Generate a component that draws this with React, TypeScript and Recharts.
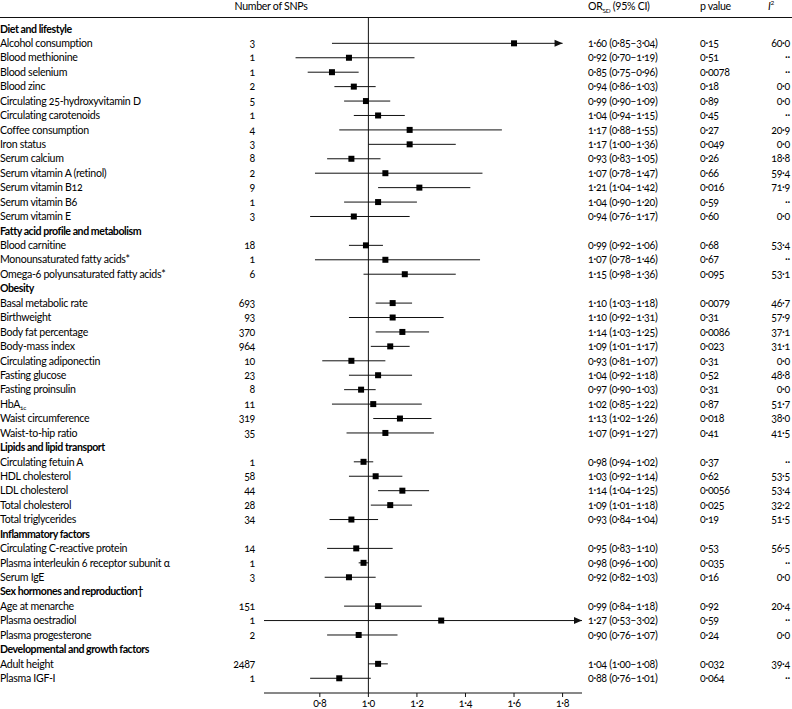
import React from "react";
import {
  ComposedChart,
  Scatter,
  XAxis,
  YAxis,
  ReferenceLine,
} from "recharts";

const FONT = "Lato, 'Open Sans', sans-serif";
const FONT_SIZE = 10.6;
const TRACK = -0.3;

const groupTitles = [
  "Diet and lifestyle",
  "Fatty acid profile and metabolism",
  "Obesity",
  "Lipids and lipid transport",
  "Inflammatory factors",
  "Sex hormones and reproduction†",
  "Developmental and growth factors",
];
const groupSizes = [13, 3, 10, 5, 3, 3, 2];

const exposures = [
  "Alcohol consumption",
  "Blood methionine",
  "Blood selenium",
  "Blood zinc",
  "Circulating 25-hydroxyvitamin D",
  "Circulating carotenoids",
  "Coffee consumption",
  "Iron status",
  "Serum calcium",
  "Serum vitamin A (retinol)",
  "Serum vitamin B12",
  "Serum vitamin B6",
  "Serum vitamin E",
  "Blood carnitine",
  "Monounsaturated fatty acids*",
  "Omega-6 polyunsaturated fatty acids*",
  "Basal metabolic rate",
  "Birthweight",
  "Body fat percentage",
  "Body-mass index",
  "Circulating adiponectin",
  "Fasting glucose",
  "Fasting proinsulin",
  "HbA1c",
  "Waist circumference",
  "Waist-to-hip ratio",
  "Circulating fetuin A",
  "HDL cholesterol",
  "LDL cholesterol",
  "Total cholesterol",
  "Total triglycerides",
  "Circulating C-reactive protein",
  "Plasma interleukin 6 receptor subunit α",
  "Serum IgE",
  "Age at menarche",
  "Plasma oestradiol",
  "Plasma progesterone",
  "Adult height",
  "Plasma IGF-I",
];

const snpCounts = [
  3, 1, 1, 2, 5, 1, 4, 3, 8, 2, 9, 1, 3, 18, 1, 6, 693, 93, 370, 964, 10, 23,
  8, 11, 319, 35, 1, 58, 44, 28, 34, 14, 1, 3, 151, 1, 2, 2487, 1,
];

// printed column
const orText = [
  "1.60 (0.85–3.04)", "0.92 (0.70–1.19)", "0.85 (0.75–0.96)", "0.94 (0.86–1.03)",
  "0.99 (0.90–1.09)", "1.04 (0.94–1.15)", "1.17 (0.88–1.55)", "1.17 (1.00–1.36)",
  "0.93 (0.83–1.05)", "1.07 (0.78–1.47)", "1.21 (1.04–1.42)", "1.04 (0.90–1.20)",
  "0.94 (0.76–1.17)", "0.99 (0.92–1.06)", "1.07 (0.78–1.46)", "1.15 (0.98–1.36)",
  "1.10 (1.03–1.18)", "1.10 (0.92–1.31)", "1.14 (1.03–1.25)", "1.09 (1.01–1.17)",
  "0.93 (0.81–1.07)", "1.04 (0.92–1.18)", "0.97 (0.90–1.03)", "1.02 (0.85–1.22)",
  "1.13 (1.02–1.26)", "1.07 (0.91–1.27)", "0.98 (0.94–1.02)", "1.03 (0.92–1.14)",
  "1.14 (1.04–1.25)", "1.09 (1.01–1.18)", "0.93 (0.84–1.04)", "0.95 (0.83–1.10)",
  "0.98 (0.96–1.00)", "0.92 (0.82–1.03)", "0.99 (0.84–1.18)", "1.27 (0.53–3.02)",
  "0.90 (0.76–1.07)", "1.04 (1.00–1.08)", "0.88 (0.76–1.01)",
];

const pValues = [
  "0.15", "0.51", "0.0078", "0.18", "0.89", "0.45", "0.27", "0.049", "0.26",
  "0.66", "0.016", "0.59", "0.60", "0.68", "0.67", "0.095", "0.0079", "0.31",
  "0.0086", "0.023", "0.31", "0.52", "0.31", "0.87", "0.018", "0.41", "0.37",
  "0.62", "0.0056", "0.025", "0.19", "0.53", "0.035", "0.16", "0.92", "0.59",
  "0.24", "0.032", "0.064",
];

const i2Values: (number | null)[] = [
  60.0, null, null, 0.0, 0.0, null, 20.9, 0.0, 18.8, 59.4, 71.9, null, 0.0,
  53.4, null, 53.1, 46.7, 57.9, 37.1, 31.1, 0.0, 48.8, 0.0, 51.7, 38.0, 41.5,
  null, 53.5, 53.4, 32.2, 51.5, 56.5, null, 0.0, 20.4, null, 0.0, 39.4, null,
];

// plotted marks
const estimate = [
  1.6, 0.92, 0.85, 0.94, 0.99, 1.04, 1.17, 1.17, 0.93, 1.07, 1.21, 1.04, 0.94,
  0.99, 1.07, 1.15, 1.1, 1.1, 1.14, 1.09, 0.93, 1.04, 0.97, 1.02, 1.13, 1.07,
  0.98, 1.03, 1.14, 1.09, 0.93, 0.95, 0.98, 0.92, 1.04, 1.3, 0.96, 1.04, 0.88,
];
const lower = [
  0.85, 0.7, 0.75, 0.86, 0.9, 0.94, 0.88, 1.0, 0.83, 0.78, 1.04, 0.9, 0.76,
  0.92, 0.78, 0.98, 1.03, 0.92, 1.03, 1.01, 0.81, 0.92, 0.9, 0.85, 1.02, 0.91,
  0.94, 0.92, 1.04, 1.01, 0.84, 0.83, 0.96, 0.82, 0.9, 0.53, 0.83, 1.0, 0.76,
];
const upper = [
  3.04, 1.19, 0.96, 1.03, 1.09, 1.15, 1.55, 1.36, 1.05, 1.47, 1.42, 1.2, 1.17,
  1.06, 1.46, 1.36, 1.18, 1.31, 1.25, 1.17, 1.07, 1.18, 1.03, 1.22, 1.26, 1.27,
  1.02, 1.14, 1.25, 1.18, 1.04, 1.1, 1.0, 1.03, 1.22, 3.02, 1.12, 1.08, 1.01,
];
// where the arrow of an off-scale interval stops
const arrowTips: Record<string, number> = {
  "Alcohol consumption": 1.8,
  "Plasma oestradiol": 1.88,
};

const xTicks = [0.8, 1.0, 1.2, 1.4, 1.6, 1.8];
const X_MIN = 0.57;
const X_MAX = 1.88;

type Row =
  | { kind: "group"; title: string }
  | { kind: "item"; i: number };

const rows: Row[] = [];
{
  let k = 0;
  groupTitles.forEach((title, g) => {
    rows.push({ kind: "group", title });
    for (let j = 0; j < groupSizes[g]; j++) rows.push({ kind: "item", i: k++ });
  });
}
const rowTicks = rows.map((_, idx) => idx);

const points = rows
  .map((r, idx) => (r.kind === "item" ? { x: estimate[r.i], y: idx } : null))
  .filter(Boolean) as { x: number; y: number }[];

const dot = (v: string) => v.replace(/\./g, "·");

const NAME_X = 0;
const SNP_X = 255;
const OR_X = 588;
const P_X = 700;
const I2_X = 790;

const txt = {
  fontFamily: FONT,
  fontSize: FONT_SIZE,
  fill: "#000",
  letterSpacing: TRACK,
  style: { fontVariantNumeric: "oldstyle-nums" },
};

function LeftTick(props: any) {
  const { y, payload } = props;
  const r = rows[payload.value];
  if (!r) return null;
  if (r.kind === "group") {
    return (
      <text x={NAME_X} y={y} dy="0.35em" {...txt} fontWeight="bold" letterSpacing={-0.45}>
        {r.title}
      </text>
    );
  }
  const name = exposures[r.i];
  return (
    <g>
      <text x={NAME_X} y={y} dy="0.35em" {...txt}>
        {name === "HbA1c" ? (
          <>
            HbA
            <tspan fontSize={6.5} dy="2.5">1c</tspan>
          </>
        ) : (
          name
        )}
      </text>
      <text x={SNP_X} y={y} dy="0.35em" textAnchor="end" {...txt}>
        {snpCounts[r.i]}
      </text>
    </g>
  );
}

function RightTick(props: any) {
  const { y, payload } = props;
  const r = rows[payload.value];
  if (!r || r.kind === "group") return null;
  const i2 = i2Values[r.i];
  return (
    <g>
      <text x={OR_X} y={y} dy="0.35em" {...txt}>
        {dot(orText[r.i])}
      </text>
      <text x={P_X} y={y} dy="0.35em" {...txt}>
        {dot(pValues[r.i])}
      </text>
      <text x={I2_X} y={y} dy="0.35em" textAnchor="end" {...txt}>
        {i2 === null ? "··" : dot(i2.toFixed(1))}
      </text>
    </g>
  );
}

function Whisker(props: any) {
  const { x1, y1, x2, y2, arrow } = props;
  if (x1 == null) return null;
  return (
    <g>
      <line x1={x1} y1={y1} x2={x2} y2={y2} stroke="#111" strokeWidth={1} />
      {arrow && (
        <polygon
          points={`${x2},${y2} ${x2 - 8},${y2 - 3.5} ${x2 - 8},${y2 + 3.5}`}
          fill="#111"
        />
      )}
    </g>
  );
}

const headStyle: React.CSSProperties = {
  position: "absolute",
  top: 0,
  whiteSpace: "nowrap",
  lineHeight: "12px",
};

export default function App() {
  return (
    <div
      style={{
        position: "absolute",
        left: 0,
        top: 0,
        width: 792,
        height: 709,
        background: "#fff",
        fontFamily: FONT,
        fontSize: FONT_SIZE,
        letterSpacing: TRACK,
        color: "#000",
      }}
    >
      {/* column headings */}
      <div style={{ ...headStyle, left: 226, width: 90, textAlign: "center" }}>
        Number of SNPs
      </div>
      <div style={{ ...headStyle, left: OR_X }}>
        OR<sub style={{ fontSize: 6.5, lineHeight: 0 }}>SD</sub> (95% CI)
      </div>
      <div style={{ ...headStyle, left: P_X }}>p value</div>
      <div style={{ ...headStyle, left: 768 }}>
        <i>I</i>
        <sup style={{ fontSize: 6.5, lineHeight: 0 }}>2</sup>
      </div>
      <div
        style={{
          position: "absolute",
          left: 0,
          top: 17,
          width: 792,
          borderTop: "1px solid #111",
        }}
      />

      <ComposedChart
        width={792}
        height={709}
        margin={{ top: 18, right: 0, bottom: 0, left: 0 }}
      >
        <XAxis
          type="number"
          dataKey="x"
          domain={[X_MIN, X_MAX]}
          allowDataOverflow
          ticks={xTicks}
          tickSize={4}
          height={16}
          stroke="#111"
          tick={{
            fill: "#000",
            fontSize: FONT_SIZE,
            fontFamily: FONT,
            style: { fontVariantNumeric: "oldstyle-nums" },
          }}
          tickFormatter={(v: number) => dot(v.toFixed(1))}
        />
        <YAxis
          yAxisId="left"
          type="number"
          dataKey="y"
          reversed
          domain={[-0.755, 46.02]}
          allowDataOverflow
          ticks={rowTicks}
          interval={0}
          width={264}
          axisLine={false}
          tickLine={false}
          tick={<LeftTick />}
        />
        <YAxis
          yAxisId="right"
          orientation="right"
          type="number"
          dataKey="y"
          reversed
          domain={[-0.755, 46.02]}
          allowDataOverflow
          ticks={rowTicks}
          interval={0}
          width={210}
          axisLine={false}
          tickLine={false}
          tick={<RightTick />}
        />
        <ReferenceLine yAxisId="left" x={1} stroke="#111" strokeWidth={1} />
        {rows.map((r, idx) => {
          if (r.kind !== "item") return null;
          const name = exposures[r.i];
          const tip = arrowTips[name];
          const lo = Math.max(lower[r.i], X_MIN);
          const hi = tip !== undefined ? tip : Math.min(upper[r.i], X_MAX);
          return (
            <ReferenceLine
              key={name}
              yAxisId="left"
              segment={[
                { x: lo, y: idx },
                { x: hi, y: idx },
              ]}
              ifOverflow="extendDomain"
              shape={(p: any) => <Whisker {...p} arrow={tip !== undefined} />}
            />
          );
        })}
        <Scatter
          yAxisId="left"
          data={points}
          isAnimationActive={false}
          shape={(p: any) => (
            <rect x={p.cx - 3} y={p.cy - 3} width={6} height={6} fill="#000" />
          )}
        />
      </ComposedChart>
    </div>
  );
}
